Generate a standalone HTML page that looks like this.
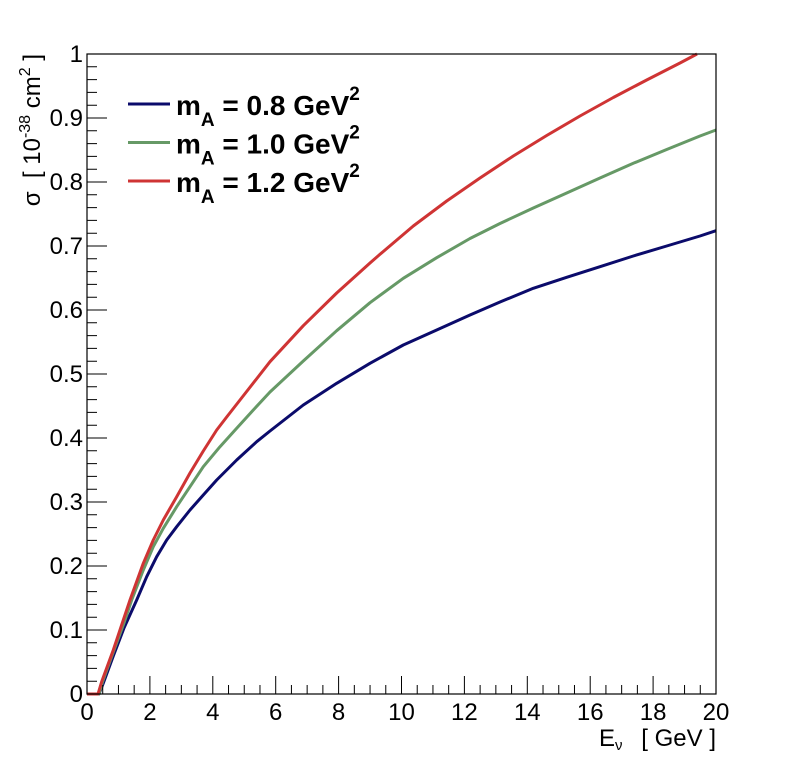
<!DOCTYPE html>
<html>
<head>
<meta charset="utf-8">
<style>
  html, body { margin:0; padding:0; background:#ffffff; }
  body { width:796px; height:772px; overflow:hidden; }
  svg { display:block; }
  text { font-family: "Liberation Sans", "DejaVu Sans", sans-serif; fill:#000; }
</style>
</head>
<body>
<svg width="796" height="772" viewBox="0 0 796 772" xmlns="http://www.w3.org/2000/svg">
  <rect x="0" y="0" width="796" height="772" fill="#ffffff"/>

  <!-- curves -->
  <g fill="none" stroke-width="3" stroke-linejoin="round" stroke-linecap="butt">
    <polyline stroke="#0b0b6b" points="87,694 99,694 103,684 113.3,656 124,628 136.7,600 146.7,576.7 156.7,556.7 166.7,540 176.7,526.7 190,510 203.3,495 216.7,480 236.7,460 256.7,441.7 270,431 303.3,405 336.7,383.3 370,363.3 403.3,345 436.7,330 470,315 500,302 533.3,288.3 566.7,277.3 600,266.7 633.3,256 666.7,246 700,236 716,230.7"/>
    <polyline stroke="#669966" points="87,694 99,694 102.5,682 113.3,652 124,623 131.7,600 143.3,570 153.3,546.7 163.3,528.3 176.7,506.7 190,486.7 203.3,466.7 220,446.7 236.7,428.3 253.3,410 270,392 303.3,361 336.7,330.7 370,302.7 403.3,278.3 436.7,257.7 470,238.5 500,223.5 533.3,208 566.7,193 600,178 633.3,163.3 666.7,149.5 700,136 716,130"/>
    <polyline stroke="#cf3434" points="87,694 98,694 101.7,681.7 113.3,650 123.3,620 130,600 143.3,563.3 153.3,540 163.3,520 176.7,496.7 190,473 203.3,451 216.7,430 226.7,417 240,400 270,361.7 303.3,325.7 336.7,293 370,263 380,254.3 413.3,226 446.7,201 480,178 513.3,156 546.7,135.5 580,116 613.3,97.5 646.7,80 680,63 697,54"/>
  </g>

  <!-- frame -->
  <rect x="87" y="54" width="629" height="640" fill="none" stroke="#000" stroke-width="1.2"/>

  <!-- x ticks -->
  <path fill="none" stroke="#000" stroke-width="1" d="
    M87,694 v-18 M102.725,694 v-9 M118.45,694 v-9 M134.175,694 v-9
    M149.9,694 v-18 M165.625,694 v-9 M181.35,694 v-9 M197.075,694 v-9
    M212.8,694 v-18 M228.525,694 v-9 M244.25,694 v-9 M259.975,694 v-9
    M275.7,694 v-18 M291.425,694 v-9 M307.15,694 v-9 M322.875,694 v-9
    M338.6,694 v-18 M354.325,694 v-9 M370.05,694 v-9 M385.775,694 v-9
    M401.5,694 v-18 M417.225,694 v-9 M432.95,694 v-9 M448.675,694 v-9
    M464.4,694 v-18 M480.125,694 v-9 M495.85,694 v-9 M511.575,694 v-9
    M527.3,694 v-18 M543.025,694 v-9 M558.75,694 v-9 M574.475,694 v-9
    M590.2,694 v-18 M605.925,694 v-9 M621.65,694 v-9 M637.375,694 v-9
    M653.1,694 v-18 M668.825,694 v-9 M684.55,694 v-9 M700.275,694 v-9
    M716,694 v-18"/>

  <!-- y ticks -->
  <path fill="none" stroke="#000" stroke-width="1" d="
    M87,694 h20 M87,681.2 h10 M87,668.4 h10 M87,655.6 h10 M87,642.8 h10
    M87,630 h20 M87,617.2 h10 M87,604.4 h10 M87,591.6 h10 M87,578.8 h10
    M87,566 h20 M87,553.2 h10 M87,540.4 h10 M87,527.6 h10 M87,514.8 h10
    M87,502 h20 M87,489.2 h10 M87,476.4 h10 M87,463.6 h10 M87,450.8 h10
    M87,438 h20 M87,425.2 h10 M87,412.4 h10 M87,399.6 h10 M87,386.8 h10
    M87,374 h20 M87,361.2 h10 M87,348.4 h10 M87,335.6 h10 M87,322.8 h10
    M87,310 h20 M87,297.2 h10 M87,284.4 h10 M87,271.6 h10 M87,258.8 h10
    M87,246 h20 M87,233.2 h10 M87,220.4 h10 M87,207.6 h10 M87,194.8 h10
    M87,182 h20 M87,169.2 h10 M87,156.4 h10 M87,143.6 h10 M87,130.8 h10
    M87,118 h20 M87,105.2 h10 M87,92.4 h10 M87,79.6 h10 M87,66.8 h10
    M87,54 h20"/>

  <!-- y tick labels -->
  <g font-size="24" text-anchor="end">
    <text x="83" y="702">0</text>
    <text x="83" y="638">0.1</text>
    <text x="83" y="574">0.2</text>
    <text x="83" y="510">0.3</text>
    <text x="83" y="446">0.4</text>
    <text x="83" y="382">0.5</text>
    <text x="83" y="318">0.6</text>
    <text x="83" y="254">0.7</text>
    <text x="83" y="190">0.8</text>
    <text x="83" y="126">0.9</text>
    <text x="83" y="62">1</text>
  </g>

  <!-- x tick labels -->
  <g font-size="24" text-anchor="middle">
    <text x="87" y="720">0</text>
    <text x="149.9" y="720">2</text>
    <text x="212.8" y="720">4</text>
    <text x="275.7" y="720">6</text>
    <text x="338.6" y="720">8</text>
    <text x="401.5" y="720">10</text>
    <text x="464.4" y="720">12</text>
    <text x="527.3" y="720">14</text>
    <text x="590.2" y="720">16</text>
    <text x="653.1" y="720">18</text>
    <text x="716" y="720">20</text>
  </g>

  <!-- x axis title -->
  <text x="599" y="746" font-size="24">E<tspan font-size="15" dy="4">ν</tspan></text>
  <text x="716" y="746" font-size="24" text-anchor="end">[&#160;GeV&#160;]</text>

  <!-- y axis title -->
  <text transform="translate(40,54) rotate(-90)" font-size="24" text-anchor="end">σ&#160;&#160;[&#160;10<tspan font-size="16" dy="-10">-38</tspan><tspan dy="10">&#160;cm</tspan><tspan font-size="16" dy="-10">2</tspan><tspan dy="10">&#160;]</tspan></text>

  <!-- legend -->
  <g stroke-width="3">
    <line x1="128" y1="104" x2="170" y2="104" stroke="#0b0b6b"/>
    <line x1="128" y1="142.5" x2="170" y2="142.5" stroke="#669966"/>
    <line x1="128" y1="181" x2="170" y2="181" stroke="#cf3434"/>
  </g>
  <g font-size="28" font-weight="bold">
    <text x="176" y="115">m<tspan font-size="19" dy="11">A</tspan><tspan dy="-11">&#160;=&#160;0.8&#160;GeV</tspan><tspan font-size="19" dy="-15">2</tspan></text>
    <text x="176" y="153.5">m<tspan font-size="19" dy="11">A</tspan><tspan dy="-11">&#160;=&#160;1.0&#160;GeV</tspan><tspan font-size="19" dy="-15">2</tspan></text>
    <text x="176" y="192">m<tspan font-size="19" dy="11">A</tspan><tspan dy="-11">&#160;=&#160;1.2&#160;GeV</tspan><tspan font-size="19" dy="-15">2</tspan></text>
  </g>
</svg>
</body>
</html>
